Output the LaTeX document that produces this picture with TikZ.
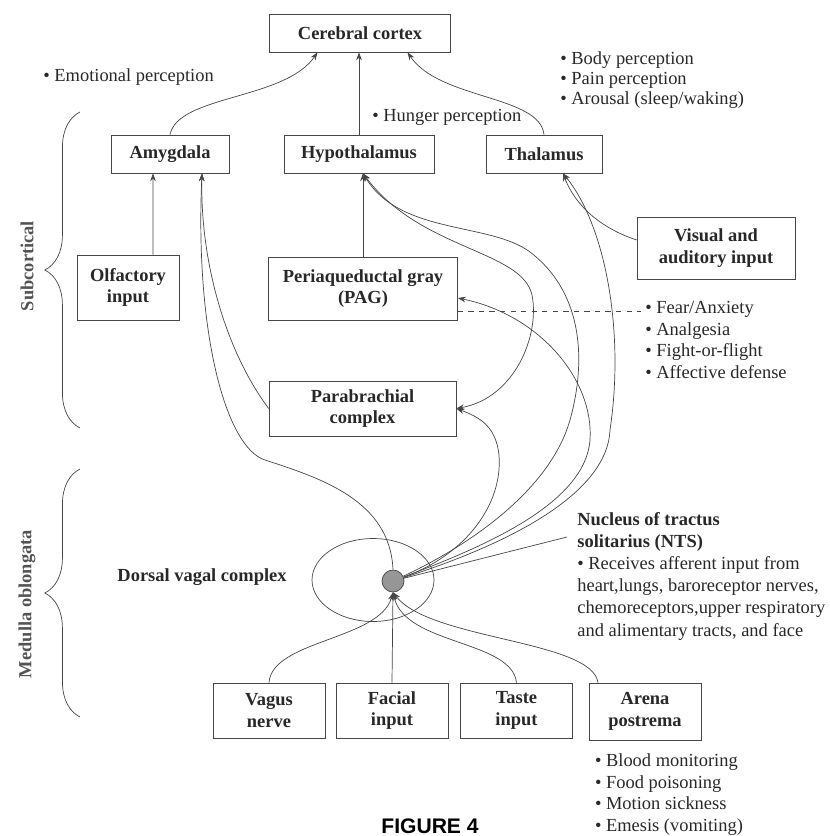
\documentclass[tikz,border=0pt]{standalone}
\usepackage{fontspec}
\setmainfont{Liberation Serif}
\setsansfont{Liberation Sans}
\usepackage{tikz}
\usetikzlibrary{positioning,arrows.meta,shapes.geometric,decorations.pathreplacing}
\definecolor{ink}{RGB}{40,40,40}
\definecolor{wire}{RGB}{70,70,70}
\definecolor{nucleus}{RGB}{150,150,150}
\newcommand*{\figfont}{\fontsize{10.5}{12.3}\selectfont}
\tikzset{%
  box/.style={draw=wire, rectangle, thin, align=center, text=ink, font=\figfont\bfseries},% brain region
  note/.style={align=left, text=ink, inner sep=0pt, font=\figfont},% bullet lists
  link/.style={draw=wire, thin, ->},% projection
  side/.style={draw=wire, decorate, decoration={brace, amplitude=20pt}},% region brace
  >={Stealth[length=4.5pt, width=3.2pt]}
}

\begin{document}
\begin{tikzpicture}[x=0.02cm, y=-0.02cm]
\useasboundingbox (0,0) rectangle (830,836);

% regions
\node[box, minimum width=3.62cm, minimum height=0.76cm] (cortex) at (360,33) {Cerebral cortex};
\node[box, minimum width=2.36cm, minimum height=0.76cm] (amyg) at (170,154) {Amygdala};
\node[box, minimum width=3.0cm, minimum height=0.76cm] (hypo) at (359,154) {Hypothalamus};
\node[box, minimum width=2.32cm, minimum height=0.76cm] (thal) at (544,154) {Thalamus};
\node[box, minimum width=2.04cm, minimum height=1.3cm] (olf) at (128,287.5) {Olfactory\\input};
\node[box, minimum width=3.78cm, minimum height=1.26cm] (pag) at (363,288.5) {Periaqueductal gray\\(PAG)};
\node[box, minimum width=3.16cm, minimum height=1.24cm] (vis) at (716,248) {Visual and\\auditory input};
\node[box, minimum width=3.74cm, minimum height=1.1cm] (para) at (362.5,408.5) {Parabrachial\\complex};
\node[box, minimum width=2.24cm, minimum height=1.1cm] (vagus) at (269,710.5) {Vagus\\nerve};
\node[box, minimum width=2.24cm, minimum height=1.1cm] (facial) at (392,710.5) {Facial\\input};
\node[box, minimum width=2.24cm, minimum height=1.1cm] (taste) at (516.5,710.5) {Taste\\input};
\node[box, minimum width=2.24cm, minimum height=1.14cm] (arena) at (645,711.5) {Arena\\postrema};

% dorsal vagal complex with the NTS
\node[draw=wire, thin, ellipse, inner sep=0pt, minimum width=2.44cm, minimum height=1.66cm] (dvc) at (373,580) {};
\node[draw=wire, thin, circle, fill=nucleus, inner sep=0pt, minimum size=0.44cm] (nts) at (393,581) {};
\node[font=\figfont\bfseries, text=ink] (dvctxt) at (202,577) {Dorsal vagal complex};

% side braces
\coordinate (subtop) at (80,112);
\coordinate (subbot) at (80,428);
\coordinate (medtop) at (80,469);
\coordinate (medbot) at (80,717);
\draw[side] (subbot) -- (subtop);
\draw[side] (medbot) -- (medtop);
\node[rotate=90, font=\figfont\bfseries, text=ink!80] (subtxt) at (27,266) {Subcortical};
\node[rotate=90, font=\figfont\bfseries, text=ink!80] (medtxt) at (27,604) {Medulla oblongata};

% notes
\node[note, anchor=base west] (emo) at (43,81) {\textbullet\ Emotional perception};
\node[note, anchor=base west] (hunger) at (372,121) {\textbullet\ Hunger perception};
\node[note, anchor=north west, font=\fontsize{10.5}{11.4}\selectfont] (thallist) at (560,51)
  {\textbullet\ Body perception\\ \textbullet\ Pain perception\\ \textbullet\ Arousal (sleep/waking)};
\node[note, anchor=north west] (paglist) at (645,301)
  {\textbullet\ Fear/Anxiety\\ \textbullet\ Analgesia\\ \textbullet\ Fight-or-flight\\ \textbullet\ Affective defense};
\node[note, anchor=north west, font=\fontsize{10.5}{12.6}\selectfont] (ntstxt) at (577,512)
  {\textbf{Nucleus of tractus}\\ \textbf{solitarius (NTS)}\\ \textbullet\ Receives afferent input from\\
   heart,lungs, baroreceptor nerves,\\ chemoreceptors,upper respiratory\\ and alimentary tracts, and face};
\node[note, below=0.26cm of arena.south west, anchor=north west, xshift=0.12cm] (arenalist)
  {\textbullet\ Blood monitoring\\ \textbullet\ Food poisoning\\ \textbullet\ Motion sickness\\ \textbullet\ Emesis (vomiting)};
\node[font=\sffamily\bfseries\large, inner sep=0pt, anchor=south] (fig) at (430,834) {FIGURE 4};

% to the cortex
\draw[link] (amyg.north) .. controls (178,95) and (285,100) .. ([xshift=-0.85cm]cortex.south);
\draw[link] (hypo.north) -- (hypo.north |- cortex.south);
\draw[link] (thal.north) .. controls (540,95) and (440,100) .. ([xshift=0.95cm]cortex.south);

% subcortical links
\draw[link] ([xshift=0.5cm]olf.north) -- ([xshift=-0.34cm]amyg.south);
\draw[link] (pag.north) -- (pag.north |- hypo.south);
\draw[link] (para.west) .. controls (225,350) and (200,260) .. ([xshift=0.64cm]amyg.south);
\draw[link, <->] (para.east) .. controls (515,398) and (540,335) .. (532,295)
  .. controls (522,250) and (420,250) .. ([xshift=0.08cm]hypo.south);
\draw[link] ([yshift=0.16cm]vis.west) .. controls (600,228) and (575,205) .. ([xshift=0.38cm]thal.south);
\coordinate (fearpt) at (641,311);
\draw[draw=wire, thin, dashed] (pag.east |- fearpt) -- (fearpt);

% NTS projections
\draw[link] (nts.north) .. controls (390,500) and (320,478) .. (265,460)
  .. controls (225,447) and (195,330) .. ([xshift=0.64cm]amyg.south);
\draw[link] (nts) .. controls (465,555) and (503,505) .. (499,455)
  .. controls (496,428) and (482,418) .. (para.east);
\draw[link] (nts) .. controls (470,545) and (550,490) .. (570,420)
  .. controls (588,355) and (580,290) .. (530,252)
  .. controls (490,222) and (400,235) .. ([xshift=0.08cm]hypo.south);
\draw[link] (nts) .. controls (480,548) and (585,505) .. (590,440)
  .. controls (594,380) and (540,315) .. ([yshift=-0.19cm]pag.east);
\draw[link] (nts) .. controls (490,550) and (607,500) .. (610,430)
  .. controls (625,330) and (605,225) .. ([xshift=0.38cm]thal.south);
\coordinate (ntsptr) at (567,537);
\draw[draw=wire, thin] (nts) -- (ntsptr);

% inputs to the NTS
\draw[link] (vagus.north) .. controls (272,640) and (380,640) .. (nts.south);
\draw[link] (facial.north) -- (nts.south);
\draw[link] (taste.north) .. controls (512,640) and (405,645) .. (nts.south);
\draw[link] ([xshift=-0.94cm]arena.north) .. controls (592,640) and (430,640) .. (nts.south);
\end{tikzpicture}
\end{document}
